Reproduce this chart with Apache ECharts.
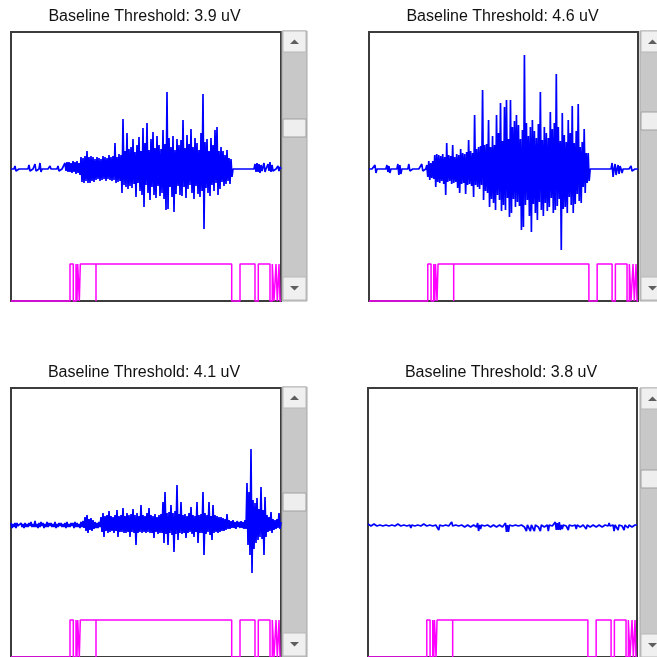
<!DOCTYPE html>
<html>
<head>
<meta charset="utf-8">
<script src="https://cdn.jsdelivr.net/npm/echarts@6/dist/echarts.min.js"></script>
<style>
html,body{margin:0;padding:0;background:#fff;}
#chart{width:657px;height:657px;}
</style>
</head>
<body>
<div id="chart"></div>
<script>
// Panel titles
const titles = [
  'Baseline Threshold: 3.9 uV',
  'Baseline Threshold: 4.6 uV',
  'Baseline Threshold: 4.1 uV',
  'Baseline Threshold: 3.8 uV'
];

// EMG signal samples (one per screen-pixel column), arbitrary amplitude units
const emgA = [
  0,0,0,0,3,-2,0,0,0,0,
  0,0,0,0,0,0,0,0,4,-2,
  0,0,0,0,5,-2,0,0,0,6,
  -3,0,0,0,0,0,0,0,0,3,
  0,0,0,0,0,0,0,3,-2,0,
  0,0,0,0,6,-2,7,-3,7,-3,
  6,-4,8,-3,7,-5,8,-4,6,-6,
  12,-13,11,-14,13,-12,18,-14,12,-14,
  13,-12,12,-13,10,-11,12,-10,11,-12,
  10,-11,13,-10,12,-12,11,-10,14,-11,
  12,-12,13,-11,26,-14,12,-13,15,-12,
  14,-24,50,-16,18,-18,36,-20,20,-17,
  22,-19,30,-15,17,-28,24,-14,32,-22,
  18,-26,41,-38,26,-16,46,-24,19,-31,
  30,-18,37,-26,21,-29,33,-17,24,-27,
  20,-24,39,-30,25,-41,77,-40,31,-18,
  22,-28,33,-43,19,-25,30,-17,24,-26,
  29,-27,49,-18,21,-29,34,-20,25,-16,
  40,-24,22,-30,31,-17,26,-25,19,-28,
  36,-22,75,-60,27,-19,30,-24,18,-27,
  31,-16,24,-22,39,-14,42,-26,18,-20,
  22,-13,18,-17,14,-15,19,-12,11,-15,
  10,-8,0,0,0,0,0,0,0,0,
  0,0,0,0,0,0,0,0,0,0,
  0,0,0,0,5,-3,6,-3,5,-4,
  4,-2,0,6,-3,0,0,5,-2,7,
  -3,4,-2,0,0,0,0,3,-2,2,0
];
const emgB = [
  0,0,0,0,0,0,4,-4,0,0,
  0,0,0,0,0,0,0,0,4,-3,
  3,-4,0,0,0,0,0,0,0,5,
  -6,4,-5,0,0,0,0,0,0,0,
  5,-2,0,0,0,0,0,0,0,0,
  0,0,0,5,-2,0,0,0,4,-8,
  8,-11,6,-9,8,-10,14,-18,15,-13,
  14,-14,13,-12,15,-15,12,-26,26,-13,
  14,-12,13,-15,24,-14,12,-13,15,-19,
  14,-24,20,-15,16,-14,15,-25,17,-16,
  29,-15,18,-17,16,-28,54,-16,20,-18,
  22,-20,23,-16,79,-31,24,-22,25,-24,
  49,-38,22,-30,33,-34,24,-41,54,-26,
  36,-31,66,-42,28,-36,62,-41,69,-29,
  30,-48,69,-44,42,-30,48,-38,54,-33,
  44,-37,30,-61,39,-58,114,-36,46,-31,
  33,-47,42,-63,49,-35,38,-44,31,-51,
  45,-33,77,-41,29,-47,42,-34,36,-42,
  31,-38,57,-29,40,-44,46,-41,95,-37,
  42,-30,28,-81,56,-40,34,-38,27,-44,
  49,-28,36,-36,63,-44,26,-35,38,-25,
  65,-32,22,-34,27,-18,40,-24,16,-14,
  16,-12,0,0,0,0,0,0,0,0,
  0,0,0,0,0,0,0,0,0,0,
  0,0,0,0,6,-8,0,5,-6,0,
  4,-5,3,0,-4,0,0,0,0,0,
  0,0,0,3,-2,0,0,0,0,2,0
];
const emgC = [
  2,-3,1,-2,2,-3,2,-1,1,-2,
  2,-2,1,-3,2,-2,1,-2,2,-1,
  3,-2,1,-2,4,-2,1,-3,2,-2,
  3,-1,2,-3,1,-2,3,-2,2,-1,
  2,-2,1,-2,3,-3,1,-2,2,-1,
  2,-2,1,-2,2,-3,3,-2,1,-2,
  2,-1,2,-3,3,-2,2,-2,1,-3,
  3,-2,4,-3,8,-6,10,-8,6,-5,
  7,-6,5,-4,3,-3,2,-3,3,-2,
  8,-7,12,-12,9,-6,10,-8,14,-7,
  9,-6,8,-8,10,-6,15,-12,9,-7,
  10,-7,17,-8,9,-8,12,-7,10,-12,
  11,-7,16,-8,10,-20,12,-8,9,-7,
  20,-8,10,-7,9,-8,12,-7,17,-8,
  10,-8,9,-13,11,-7,8,-9,10,-8,
  11,-8,23,-18,33,-9,12,-20,13,-8,
  20,-10,12,-27,14,-9,40,-15,11,-8,
  23,-9,10,-8,11,-13,9,-8,12,-7,
  18,-9,10,-12,9,-7,23,-18,10,-8,
  11,-8,33,-30,12,-9,10,-7,23,-10,
  9,-15,20,-8,10,-7,9,-8,8,-7,
  8,-6,7,-6,6,-5,11,-4,5,-4,
  4,-3,5,-3,3,-4,4,-2,3,-3,
  4,-3,3,-4,5,-4,42,-20,33,-30,
  76,-48,25,-24,22,-18,27,-15,16,-12,
  38,-14,15,-30,28,-12,10,-7,8,-6,
  13,-8,6,-5,5,-4,6,-3,12,-4,3
];
const emgD = [
  1,-1,1,-1,0,-1,1,-1,1,-1,
  0,-1,0,-1,1,-1,1,-1,0,-1,
  1,-1,1,-1,0,-1,0,-1,1,-1,
  1,-1,0,-1,0,-1,0,-1,0,-1,
  0,-1,0,-3,0,-1,0,-1,0,-1,
  0,-1,0,-1,0,-1,1,-1,0,-1,
  0,-1,0,-1,0,-1,0,-1,0,-1,
  0,-5,0,-1,0,-1,0,-1,0,-1,
  0,-1,0,-1,3,-1,0,-1,0,-1,
  0,-1,0,-1,0,-1,0,-2,0,-1,
  0,-1,0,-2,0,-1,0,-1,0,-2,
  2,-6,0,-4,0,-1,0,-1,0,-1,
  0,-1,0,-2,0,-1,0,-1,0,-2,
  0,-1,0,-1,0,-2,0,-1,2,-7,
  0,-7,0,-2,0,-1,0,-2,0,-1,
  0,-1,0,-2,0,-1,2,-2,0,-6,
  0,-2,0,-6,0,-2,0,-6,0,-1,
  0,-2,0,-6,0,-1,0,-2,0,-1,
  0,-6,0,-2,0,-1,0,-2,3,-5,
  2,-5,3,-5,0,-4,0,-2,0,-1,
  0,-5,0,-2,0,-1,0,-2,0,-4,
  0,-1,0,-2,0,-1,0,-1,0,-4,
  0,-1,0,-2,0,-1,0,-1,0,-2,
  0,-1,0,-1,0,-2,0,-1,0,-1,
  0,-1,2,-1,0,-2,0,-6,0,-1,
  0,-5,0,-2,0,-1,0,-5,0,-1,
  0,-3,0,-1,0,-2,0,-1,0,-1,0
];

// On/off detection gate: pulse start and end positions (same sample units)
const gateOn  = [59, 65, 66.7, 69.3, 85, 229, 247.3, 261.3, 265, 268];
const gateOff = [62.3, 66, 68.3, 85, 220.7, 244, 259, 263, 266.3, 269];

const signals = [emgA, emgB, emgC, emgD];

// ---- layout (not data) ----
const grids = [
  {left: 11,  top: 32,  width: 270, height: 269},
  {left: 369, top: 32,  width: 269, height: 269},
  {left: 11,  top: 388, width: 270, height: 269},
  {left: 368, top: 388, width: 269, height: 269}
];
const titlePos = [[144.5, 8.5], [502.5, 8.5], [144, 365], [501, 365]];
const scrollPos = [[282, 31, 119], [640, 31, 112], [282, 387, 493], [640, 388, 470]];

const gatePts = [[0, 0]];
for (let j = 0; j < gateOn.length; j++) {
  gatePts.push([gateOn[j], 0], [gateOn[j], 1], [gateOff[j], 1], [gateOff[j], 0]);
}
gatePts.push([270, 0]);

function scrollbar(x, y0, thumbY) {
  const w = 25, h = 270;
  return [
    {type: 'rect', shape: {x: x, y: y0, width: w, height: h}, style: {fill: '#c8c8c8', stroke: '#a8a8a8', lineWidth: 1}},
    {type: 'rect', shape: {x: x + 1, y: y0, width: w - 2, height: 21}, style: {fill: '#f0f0f0', stroke: '#b8b8b8', lineWidth: 1}},
    {type: 'polygon', shape: {points: [[x + 8, y0 + 13], [x + 17, y0 + 13], [x + 12.5, y0 + 8.5]]}, style: {fill: '#5e5e5e'}},
    {type: 'rect', shape: {x: x + 1, y: thumbY, width: w - 2, height: 18}, style: {fill: '#eeeeee', stroke: '#a0a0a0', lineWidth: 1}},
    {type: 'rect', shape: {x: x + 1, y: y0 + h - 24, width: w - 2, height: 23}, style: {fill: '#f0f0f0', stroke: '#b8b8b8', lineWidth: 1}},
    {type: 'polygon', shape: {points: [[x + 8, y0 + h - 15], [x + 17, y0 + h - 15], [x + 12.5, y0 + h - 10.5]]}, style: {fill: '#5e5e5e'}}
  ];
}

const option = {
  animation: false,
  backgroundColor: '#ffffff',
  title: titles.map((t, k) => ({
    text: t, left: titlePos[k][0], top: titlePos[k][1], textAlign: 'center', padding: 0,
    textStyle: {fontSize: 16, fontWeight: 'normal', color: '#111', fontFamily: 'Liberation Sans, Arial, sans-serif'}
  })),
  grid: grids.map(g => Object.assign({show: true, borderColor: '#3c3c3c', borderWidth: 2, backgroundColor: '#fff'}, g)),
  xAxis: grids.map((g, k) => ({type: 'value', gridIndex: k, min: 0, max: 270, show: false})),
  yAxis: [].concat(...grids.map((g, k) => [
    {type: 'value', gridIndex: k, min: -132, max: 137, show: false},
    {type: 'value', gridIndex: k, min: 0, max: 269 / 37, show: false}
  ])),
  series: [].concat(...signals.map((sig, k) => [
    {
      type: 'line', xAxisIndex: k, yAxisIndex: 2 * k, silent: true,
      data: sig.map((v, i) => [i, v]), showSymbol: false, symbol: 'none',
      lineStyle: {color: '#0000ff', width: 1.7}
    },
    {
      type: 'line', xAxisIndex: k, yAxisIndex: 2 * k + 1, silent: true, clip: false,
      data: gatePts, showSymbol: false, symbol: 'none',
      lineStyle: {color: '#ff00ff', width: 1.5}
    }
  ])),
  graphic: [].concat(...scrollPos.map(p => scrollbar(p[0], p[1], p[2])))
};

const chart = echarts.init(document.getElementById('chart'), null, {renderer: 'canvas'});
chart.setOption(option);
</script>
</body>
</html>
